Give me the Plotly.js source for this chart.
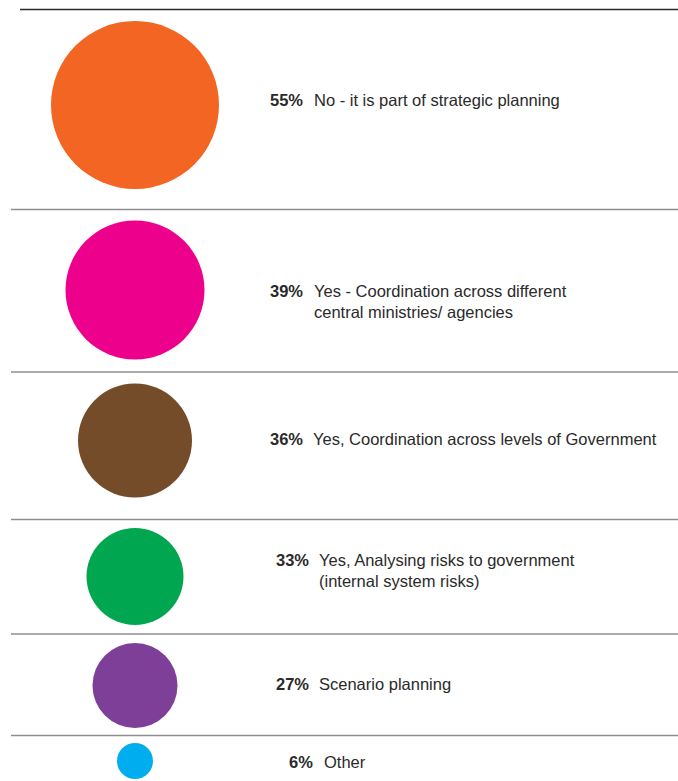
<!DOCTYPE html>
<html>
<head>
<meta charset="utf-8">
<script src="https://cdn.plot.ly/plotly-3.0.1.min.js"></script>
<style>
  html, body { margin: 0; padding: 0; background: #ffffff; }
  #chart { width: 678px; height: 781px; }
</style>
</head>
<body>
<div id="chart"></div>
<script>
// ---- Data ----
const categories = [
  "No - it is part of strategic planning",
  "Yes - Coordination across different<br>central ministries/ agencies",
  "Yes, Coordination across levels of Government",
  "Yes, Analysing risks to government<br>(internal system risks)",
  "Scenario planning",
  "Other"
];
const percentValues = [55, 39, 36, 33, 27, 6];

// ---- Styles / layout (pixel-space helpers) ----
const bubbleColors = ["#F26522", "#EC008C", "#754C29", "#00A650", "#7D3F98", "#00AEEF"];
const bubbleDiameters = [168, 139, 114, 97, 85, 36];
const bubbleX = 135;
const rowCenterY = [105, 290, 440.5, 576.5, 685.5, 761];
const textFirstLineY = [100, 291, 439, 560, 684, 762];
const pctRightX = [305, 305, 305, 311, 311, 315];
const labelLeftX = [312, 312, 311, 317, 317, 322];
const dividerY = [9.5, 209.5, 372, 519.5, 634, 735.5];
const dividerX0 = [20, 11, 11, 11, 11, 11];

const W = 678, H = 781;
const FONT = '"Liberation Sans", Arial, Helvetica, sans-serif';
const TEXTCOL = '#2a2a2a';
const FS = 16.5;
const LINEH = 20;

const trace = {
  type: 'scatter',
  mode: 'markers',
  x: percentValues.map(() => bubbleX),
  y: rowCenterY,
  text: categories,
  marker: {
    size: bubbleDiameters,
    color: bubbleColors,
    opacity: 1,
    line: { width: 0 }
  },
  hoverinfo: 'skip',
  showlegend: false
};

const annotations = [];
percentValues.forEach((v, i) => {
  const nLines = categories[i].split('<br>').length;
  annotations.push({
    x: pctRightX[i], y: textFirstLineY[i], xref: 'x', yref: 'y',
    text: '<b>' + v + '%</b>',
    showarrow: false, xanchor: 'right', yanchor: 'middle',
    font: { family: FONT, size: FS, color: TEXTCOL }
  });
  annotations.push({
    x: labelLeftX[i], y: textFirstLineY[i] + (nLines - 1) * LINEH / 2, xref: 'x', yref: 'y',
    text: categories[i],
    showarrow: false, xanchor: 'left', yanchor: 'middle', align: 'left',
    font: { family: FONT, size: FS, color: TEXTCOL }
  });
});

const shapes = dividerY.map((y, i) => ({
  type: 'line', xref: 'x', yref: 'y',
  x0: dividerX0[i], x1: W, y0: y, y1: y,
  line: { color: i === 0 ? '#2b2b2b' : '#8f8f8f', width: 1.5 }
}));

const layout = {
  width: W, height: H,
  margin: { l: 0, r: 0, t: 0, b: 0, pad: 0 },
  paper_bgcolor: '#ffffff', plot_bgcolor: '#ffffff',
  xaxis: { range: [0, W], visible: false, fixedrange: true },
  yaxis: { range: [H, 0], visible: false, fixedrange: true },
  shapes: shapes,
  annotations: annotations,
  showlegend: false
};

Plotly.newPlot('chart', [trace], layout, { staticPlot: true, displayModeBar: false });
</script>
</body>
</html>
